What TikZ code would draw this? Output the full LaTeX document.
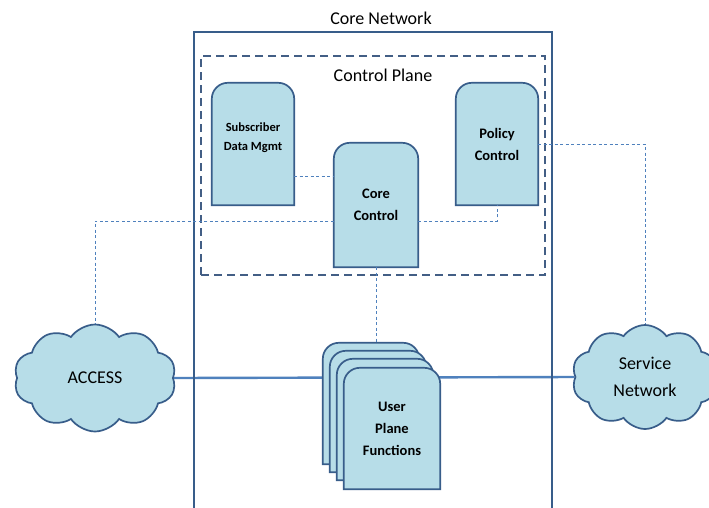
\documentclass[tikz,border=0pt]{standalone}
\usepackage{fontspec}
\setmainfont{Carlito}
\usetikzlibrary{shapes.symbols,backgrounds}

\definecolor{nfFill}{HTML}{B7DDE8}
\definecolor{nfEdge}{HTML}{385D8A}
\definecolor{linkBlue}{HTML}{4F81BD}
\definecolor{planeEdge}{HTML}{435E85}

% outline of a network-function card: rounded top, square bottom
\newcommand\cardoutline[1]{%
  \path[card] (#1.south west) [rounded corners=16pt] -- (#1.north west)
    -- (#1.north east) [sharp corners] -- (#1.south east) -- cycle;}

\begin{document}
\begin{tikzpicture}[x=1pt,y=-1pt,
  card/.style={fill=nfFill,draw=nfEdge,line width=1.7pt},
  nfbox/.style={inner sep=0pt,align=center,minimum width=82pt,minimum height=122pt,
    font=\bfseries\fontsize{14.5}{22}\selectfont},
  netcloud/.style={cloud,cloud puffs=10,cloud puff arc=110,cloud ignores aspect,fill=nfFill,draw=nfEdge,
    line width=1.7pt,inner sep=0pt,align=center,font=\fontsize{18}{27}\selectfont},
  heading/.style={font=\fontsize{18}{22}\selectfont,inner sep=0pt},
  ctrl/.style={draw=linkBlue,line width=1pt,dash pattern=on 3pt off 2.5pt},
  data/.style={draw=linkBlue,line width=2.4pt}]

\clip (0,0) rectangle (709,507);

% core network frame and control plane area
\node[draw=nfEdge,line width=1.6pt,minimum width=358pt,minimum height=496pt,inner sep=0pt]
  (corenet) at (373,280) {};
\node[heading] (coretitle) at (381,18) {Core Network};
\node[draw=planeEdge,line width=2pt,dash pattern=on 8pt off 5pt,minimum width=344pt,
  minimum height=219pt,inner sep=0pt] (cplane) at (373,165.5) {};
\node[heading] (cptitle) at (383,75) {Control Plane};

% control plane functions
\node[nfbox,font=\bfseries\fontsize{12.5}{19}\selectfont,text depth=14pt] (sdm) at (253,144) {Subscriber\\Data Mgmt};
\node[nfbox,minimum width=84pt,minimum height=124pt] (cc) at (376,205) {Core\\Control};
\node[nfbox] (pc) at (497,144) {Policy\\Control};

% user plane function stack
\node[nfbox,minimum width=96pt,minimum height=121pt] (upf1) at (371,403.5) {};
\node[nfbox,minimum width=96pt,minimum height=121pt] (upf2) at (378,411.5) {};
\node[nfbox,minimum width=96pt,minimum height=121pt] (upf3) at (385,419.5) {};
\node[nfbox,minimum width=96pt,minimum height=121pt] (upf4) at (392,428.5) {User\\Plane\\Functions};

% networks at either end
\node[netcloud,minimum width=162pt,minimum height=107pt] (access) at (95,378) {ACCESS};
\node[netcloud,minimum width=146pt,minimum height=104pt] (svc) at (645,377) {Service\\Network};

\begin{scope}[on background layer]
  \fill[white] (0,0) rectangle (709,507);
  \draw[data] (access.east) -- (svc.west);
  \cardoutline{sdm}
  \cardoutline{cc}
  \cardoutline{pc}
  \cardoutline{upf1}
  \cardoutline{upf2}
  \cardoutline{upf3}
  \cardoutline{upf4}
\end{scope}

% control interfaces
\coordinate (y176) at (0,176);
\coordinate (y221) at (0,221);
\draw[ctrl] (sdm.east |- y176) -- (cc.west |- y176);
\draw[ctrl] (cc.west |- y221) -| (access.north);
\draw[ctrl] (cc.east |- y221) -| (pc.south);
\draw[ctrl] (pc.east) -| (svc.north);
\draw[ctrl] (cc.south) -- (cc.south |- upf1.north);
\end{tikzpicture}
\end{document}
